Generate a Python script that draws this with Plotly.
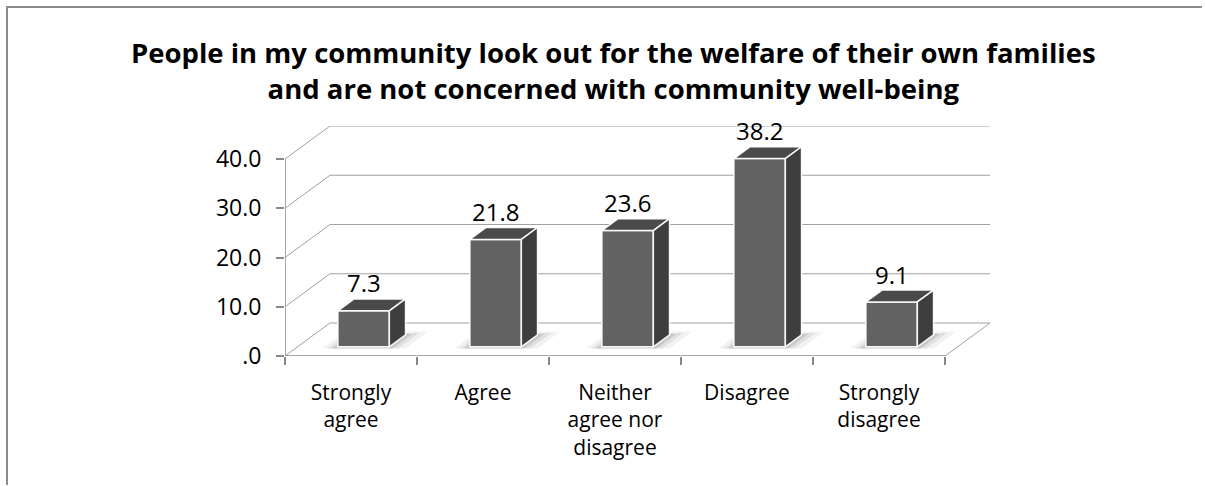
import plotly.graph_objects as go

# ---- data -------------------------------------------------------------
categories = ["Strongly agree", "Agree", "Neither agree nor disagree",
              "Disagree", "Strongly disagree"]
category_labels = ["Strongly<br>agree", "Agree", "Neither<br>agree nor<br>disagree",
                   "Disagree", "Strongly<br>disagree"]
values = [7.3, 21.8, 23.6, 38.2, 9.1]
y_ticks = [0, 10, 20, 30, 40]
y_tick_labels = [".0", "10.0", "20.0", "30.0", "40.0"]
title_text = ("People in my community look out for the welfare of their own families"
              "<br>and are not concerned with community well-being")

# ---- geometry of the oblique 3-D frame --------------------------------
W, H = 1205, 486
L, R, T, B = 285, 990, 126, 356          # plot area in pixels
FRONT_PX = 660                           # width of the front floor edge
DEPTH_PX = (45, 33)                      # screen offset of the full depth
Y_TOP = 40
N = len(categories)

px_per_x = FRONT_PX / N
px_per_y = (B - T - DEPTH_PX[1]) / Y_TOP
DX = DEPTH_PX[0] / px_per_x              # depth offset in x units
DY = DEPTH_PX[1] / px_per_y              # depth offset in y units
X0, X1 = -0.5, N - 0.5

BAR_W = 0.39                             # bar width (category units)
D_FRONT, D_BACK = 0.28, 0.64             # bar depth span (fraction of depth)

FONT = "Open Sans, Calibri, Carlito, sans-serif"
GRID = "#a0a0a0"
AXIS = "#888888"
FRONT_C, TOP_C, SIDE_C = "#626262", "#4a4a4a", "#3e3e3e"
EDGE = "rgba(255,255,255,0.95)"
FRAME = "#8c8c8c"


def P(x, y, d):
    """Project a point (x, y) at depth fraction d onto the 2-D axes."""
    return x + d * DX, y + d * DY


def px_to_paper(px, py):
    return (px - L) / (R - L), (B - py) / (B - T)


fig = go.Figure()
shapes = []


def line(p, q, color=GRID, width=1):
    shapes.append(dict(type="line", xref="x", yref="y", x0=p[0], y0=p[1],
                       x1=q[0], y1=q[1], line=dict(color=color, width=width),
                       layer="below"))


def path_of(pts):
    return "M " + " L ".join(f"{x},{y}" for x, y in pts) + " Z"


# back wall and side wall gridlines
for v in y_ticks:
    line(P(X0, v, 1), P(X1, v, 1))
    line(P(X0, v, 0), P(X0, v, 1))
# floor right edge
line(P(X1, 0, 0), P(X1, 0, 1))
# value axis and category axis lines
line(P(X0, 0, 0), P(X0, Y_TOP, 0), AXIS, 1.5)
line(P(X0, 0, 0), P(X1, 0, 0), AXIS, 1.5)

# soft floor shadows under each bar
for i, v in enumerate(values):
    for grow, alpha in [(0.10, 0.05), (0.06, 0.07), (0.03, 0.10)]:
        a, b = i - BAR_W / 2 - grow, i + BAR_W / 2 + grow * 1.4
        pts = [P(a, 0, D_FRONT - 0.05), P(b, 0, D_FRONT - 0.05),
               P(b, 0, D_BACK + grow), P(a, 0, D_BACK + grow)]
        shapes.append(dict(type="path", xref="x", yref="y", path=path_of(pts),
                           fillcolor=f"rgba(0,0,0,{alpha})",
                           line=dict(width=0), layer="below"))


def poly(pts, fill, edge=None, width=0):
    xs = [p[0] for p in pts] + [pts[0][0]]
    ys = [p[1] for p in pts] + [pts[0][1]]
    fig.add_trace(go.Scatter(
        x=xs, y=ys, mode="lines", fill="toself", fillcolor=fill,
        line=dict(color=edge or "rgba(0,0,0,0)", width=width),
        hoverinfo="skip", showlegend=False))


# front faces of the bars
fig.add_trace(go.Bar(
    x=[P(i, 0, D_FRONT)[0] for i in range(N)],
    y=values,
    base=[P(0, 0, D_FRONT)[1]] * N,
    width=BAR_W,
    marker=dict(color=FRONT_C, line=dict(color=EDGE, width=1.5)),
    hoverinfo="skip", showlegend=False))

# top and side faces
for i, v in enumerate(values):
    a, b = i - BAR_W / 2, i + BAR_W / 2
    poly([P(a, v, D_FRONT), P(b, v, D_FRONT), P(b, v, D_BACK), P(a, v, D_BACK)],
         TOP_C, EDGE, 1.5)
    poly([P(b, 0, D_FRONT), P(b, v, D_FRONT), P(b, v, D_BACK), P(b, 0, D_BACK)],
         SIDE_C, EDGE, 1.5)

# data labels
annotations = []
for i, v in enumerate(values):
    x, y = P(i, v, D_BACK)
    annotations.append(dict(
        x=P(i, 0, D_FRONT)[0], y=y, xref="x", yref="y", text=f"{v:.1f}",
        showarrow=False, yanchor="middle", yshift=16,
        font=dict(family=FONT, size=24, color="#000000")))

# chart title
tx, ty = px_to_paper(613, 70)
annotations.append(dict(
    x=tx, y=ty, xref="paper", yref="paper", text=f"<b>{title_text}</b>",
    showarrow=False, xanchor="center", yanchor="middle",
    font=dict(family=FONT, size=27.5, color="#000000")))

# chart frame: thin filled strips along the top and left edges
for (ax, ay, bx, by) in [(6, 6, 8, H - 1), (6, 6, W - 3, 8)]:
    x0, y0 = px_to_paper(ax, ay)
    x1, y1 = px_to_paper(bx, by)
    shapes.append(dict(type="rect", xref="paper", yref="paper",
                       x0=x0, y0=y0, x1=x1, y1=y1,
                       fillcolor=FRAME, line=dict(width=0)))

fig.update_layout(
    width=W, height=H,
    margin=dict(l=L, r=W - R, t=T, b=H - B, pad=0),
    paper_bgcolor="white", plot_bgcolor="white",
    shapes=shapes, annotations=annotations, showlegend=False,
    xaxis=dict(range=[X0, X1 + DX], tickvals=list(range(N)),
               ticktext=category_labels, ticks="", showgrid=False,
               zeroline=False, showline=False, ticklabelstandoff=22,
               tickfont=dict(family=FONT, size=21, color="#000000"),
               minor=dict(ticks="outside", ticklen=8, tickcolor=AXIS,
                          tickwidth=1.5, tick0=X0, dtick=1, showgrid=False)),
    yaxis=dict(range=[0, Y_TOP + DY], tickvals=y_ticks, ticktext=y_tick_labels,
               ticks="outside", ticklen=8, tickcolor=AXIS, tickwidth=1.5,
               showgrid=False, zeroline=False, showline=False,
               ticklabelstandoff=10,
               tickfont=dict(family=FONT, size=23, color="#000000")),
)

fig.write_html("out.html")
